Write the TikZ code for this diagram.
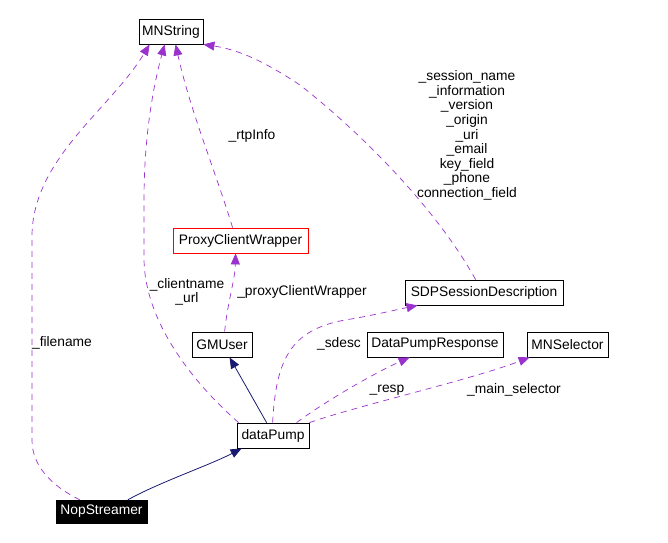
\documentclass[tikz,border=0pt]{standalone}
\usepackage{fontspec}
\setmainfont{Liberation Sans}
\usetikzlibrary{arrows.meta}
\definecolor{navyline}{HTML}{191970}
\definecolor{orchid}{HTML}{9A32CD}
\begin{document}
\begin{tikzpicture}[x=1pt,y=-1pt,
  every node/.style={font=\fontsize{13.8}{14.6}\selectfont, inner sep=0pt},
  cls/.style={draw=black, line width=0.8pt, fill=white, minimum height=25pt},
  inherit/.style={draw=navyline, line width=0.8pt, -{Triangle[length=11pt,width=9pt]}},
  usage/.style={draw=orchid, line width=0.7pt, dash pattern=on 6pt off 5pt, -{Triangle[length=11pt,width=9pt,fill=orchid]}},
  lbl/.style={align=center}]
\useasboundingbox (0,0) rectangle (668,542);
% nodes
\node[cls, minimum width=64pt] (mn) at (171,31.5) {MNString};
\node[cls, draw=red, minimum width=135pt] (pcw) at (240.5,240.5) {ProxyClientWrapper};
\node[cls, minimum width=60pt] (gm) at (222,344.5) {GMUser};
\node[cls, minimum width=72pt] (dp) at (273,435.5) {dataPump};
\node[draw=black, fill=black, text=white, minimum width=91pt, minimum height=23pt] (nop) at (101.5,511.5) {NopStreamer};
\node[cls, minimum width=158pt] (sdp) at (484,292.5) {SDPSessionDescription};
\node[cls, minimum width=136pt] (dpr) at (435,344.5) {DataPumpResponse};
\node[cls, minimum width=81pt] (sel) at (567.5,344.5) {MNSelector};
% inheritance
\draw[inherit] ([xshift=72pt]nop.north west) .. controls (160,482) and (210,465) .. ([xshift=5pt]dp.south west);
\draw[inherit] ([xshift=30pt]dp.north west) -- ([xshift=38pt]gm.south west);
% usage
\draw[usage] ([xshift=24pt]nop.north west) .. controls (50,485) and (32,465) .. (32,440) -- (32,240) .. controls (30,160) and (110,110) .. ([xshift=11pt]mn.south west);
\draw[usage] ([xshift=2pt]dp.north west) .. controls (190,380) and (145,320) .. (144,260) -- (144,200) .. controls (144,130) and (155,80) .. ([xshift=26pt]mn.south west);
\draw[usage] ([xshift=60pt]pcw.north west) .. controls (215,170) and (190,110) .. ([xshift=37pt]mn.south west);
\draw[usage] ([xshift=33pt]gm.north west) .. controls (228,300) and (235,280) .. ([xshift=63pt]pcw.south west);
\draw[usage] ([xshift=71pt]sdp.north west) .. controls (440,215) and (370,140) .. (300,85) .. controls (265,62) and (240,50) .. (mn.south east);
\draw[usage] ([xshift=36pt]dp.north west) .. controls (276,360) and (290,330) .. (345,320) .. controls (370,316) and (395,310) .. ([xshift=13pt]sdp.south west);
\draw[usage] ([xshift=60pt]dp.north west) .. controls (320,405) and (370,375) .. ([xshift=43pt]dpr.south west);
\draw[usage] (dp.north east) .. controls (360,405) and (470,380) .. ([xshift=3pt]sel.south west);
% labels
\node[lbl] (lfile) at (62,343) {\_filename};
\node[lbl] (lclient) at (187,292) {\_clientname\\\_url};
\node[lbl] (lrtp) at (252,136) {\_rtpInfo};
\node[lbl] (lproxy) at (302,292) {\_proxyClientWrapper};
\node[lbl] (lsdp) at (467,135.5) {\_session\_name\\\_information\\\_version\\\_origin\\\_uri\\\_email\\key\_field\\\_phone\\connection\_field};
\node[lbl] (lsdesc) at (339,344) {\_sdesc};
\node[lbl] (lresp) at (387,390) {\_resp};
\node[lbl] (lmain) at (514,390) {\_main\_selector};
\end{tikzpicture}
\end{document}
